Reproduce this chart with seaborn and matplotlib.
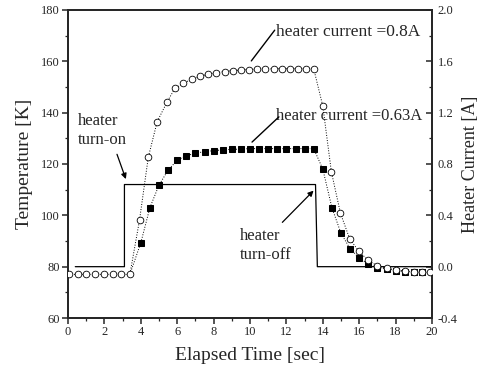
import numpy as np
import pandas as pd
import matplotlib
matplotlib.use("Agg")
import matplotlib.pyplot as plt
from matplotlib.ticker import MultipleLocator, FormatStrFormatter
import seaborn as sns

# heater current = 0.8A (open circles)
t_08 = [0.05, 0.55, 1.0, 1.5, 1.95, 2.45, 2.9, 3.4, 3.93, 4.41, 4.9, 5.45, 5.88,
        6.34, 6.8, 7.25, 7.7, 8.15, 8.6, 9.05, 9.5, 9.95, 10.4, 10.85, 11.3, 11.75,
        12.2, 12.65, 13.1, 13.5, 14.0, 14.47, 14.97, 15.48, 15.97, 16.47, 16.98,
        17.5, 18.0, 18.5, 19.0, 19.46, 19.9]
T_08 = [77, 77, 77, 77, 77, 77, 77, 77, 98.2, 122.6, 136.5, 144.3, 149.5,
        151.4, 153.1, 154.2, 155.0, 155.6, 156.0, 156.4, 156.6, 156.8, 157.0, 157.0,
        157.1, 157.1, 157.1, 157.1, 157.1, 157.1, 142.6, 117.0, 100.8, 90.8, 86.1,
        82.6, 80.4, 79.4, 78.7, 78.3, 78.0, 77.8, 77.8]

# heater current = 0.63A (filled squares)
t_063 = [3.4, 4.0, 4.5, 5.0, 5.5, 6.0, 6.5, 7.0, 7.5, 8.0, 8.5, 9.0, 9.5, 10.0,
         10.5, 11.0, 11.5, 12.0, 12.5, 13.0, 13.5, 14.0, 14.5, 15.0, 15.5, 16.0,
         16.5, 17.0, 17.5, 18.0, 18.5, 19.0, 19.46]
T_063 = [77, 89.3, 103.0, 111.8, 117.6, 121.5, 123.2, 124.2, 124.8, 125.2, 125.5,
         125.7, 125.8, 126, 126, 126, 126, 126, 126, 126, 126, 118.0, 103.0, 93.0,
         87.0, 83.4, 80.9, 79.6, 79.2, 78.5, 78.1, 77.9, 77.8]

# heater current step (right axis)
t_cur = [0.4, 3.1, 3.1, 13.6, 13.7, 20.0]
I_cur = [0.0, 0.0, 0.64, 0.64, 0.0, 0.0]

sns.set_style("ticks")
plt.rcParams['font.family'] = ['Liberation Serif', 'DejaVu Serif']

fig = plt.figure(figsize=(4.8, 3.74), dpi=100)
ax = fig.add_axes([0.1417, 0.1497, 0.7583, 0.8236])
ax2 = ax.twinx()

# current step on the right axis
sns.lineplot(x=t_cur, y=I_cur, ax=ax2, color='black', lw=0.9,
             estimator=None, sort=False, zorder=2)

# temperature curves (first square sits under the baseline circles)
sns.lineplot(x=t_063, y=T_063, ax=ax, color='black', lw=0.7, ls=':',
             marker='s', markersize=4.0, markerfacecolor='black',
             markeredgecolor='black', markevery=list(range(1, len(t_063))),
             estimator=None, sort=False, zorder=3)
sns.lineplot(x=t_08, y=T_08, ax=ax, color='black', lw=0.7, ls=':',
             marker='o', markersize=4.8, markerfacecolor='white',
             markeredgecolor='black', markeredgewidth=0.6,
             estimator=None, sort=False, zorder=4)

ax.set_zorder(ax2.get_zorder() + 1)
ax.patch.set_visible(False)

ax.set_xlim(0, 20)
ax.set_ylim(60, 180)
ax2.set_ylim(-0.4, 2.0)

ax.xaxis.set_major_locator(MultipleLocator(2))
ax.xaxis.set_minor_locator(MultipleLocator(1))
ax.yaxis.set_major_locator(MultipleLocator(20))
ax.yaxis.set_minor_locator(MultipleLocator(10))
ax2.yaxis.set_major_locator(MultipleLocator(0.4))
ax2.yaxis.set_minor_locator(MultipleLocator(0.2))
ax2.yaxis.set_major_formatter(FormatStrFormatter('%.1f'))

for a in (ax, ax2):
    for s in a.spines.values():
        s.set_linewidth(1.3)
        s.set_visible(True)
ax.tick_params(axis='both', which='major', direction='out', length=4, width=1.1,
               labelsize=9, pad=2)
ax.tick_params(axis='both', which='minor', direction='out', length=2, width=0.9)
ax2.tick_params(axis='y', which='major', direction='in', length=4, width=1.1,
                labelsize=9, pad=4)
ax2.tick_params(axis='y', which='minor', direction='in', length=2, width=0.9)

ax.set_xlabel("Elapsed Time [sec]", fontsize=14, labelpad=6)
ax.set_ylabel("Temperature [K]", fontsize=14, labelpad=6)
ax2.set_ylabel("Heater Current [A]", fontsize=13, labelpad=3)

# annotations
ax.text(11.45, 171.6, "heater current =0.8A", fontsize=12.5, ha='left', va='center')
ax.annotate("", xy=(9.98, 159.3), xytext=(11.45, 173.0),
            arrowprops=dict(arrowstyle='-', color='black', lw=1.0))
ax.text(11.45, 138.7, "heater current =0.63A", fontsize=12, ha='left', va='center')
ax.annotate("", xy=(10.0, 127.8), xytext=(11.7, 139.1),
            arrowprops=dict(arrowstyle='-', color='black', lw=1.0))

ax.text(0.55, 133.0, "heater\nturn-on", fontsize=12, ha='left', va='center',
        linespacing=1.3)
ax.annotate("", xy=(3.23, 113.1), xytext=(2.64, 124.8),
            arrowprops=dict(arrowstyle='-|>', color='black', lw=0.9,
                            mutation_scale=8))
ax.text(9.47, 88.3, "heater\nturn-off", fontsize=12, ha='left', va='center',
        linespacing=1.3)
ax.annotate("", xy=(13.6, 110.4), xytext=(11.67, 96.5),
            arrowprops=dict(arrowstyle='-|>', color='black', lw=0.9,
                            mutation_scale=8))

fig.savefig("out.png", dpi=100)
